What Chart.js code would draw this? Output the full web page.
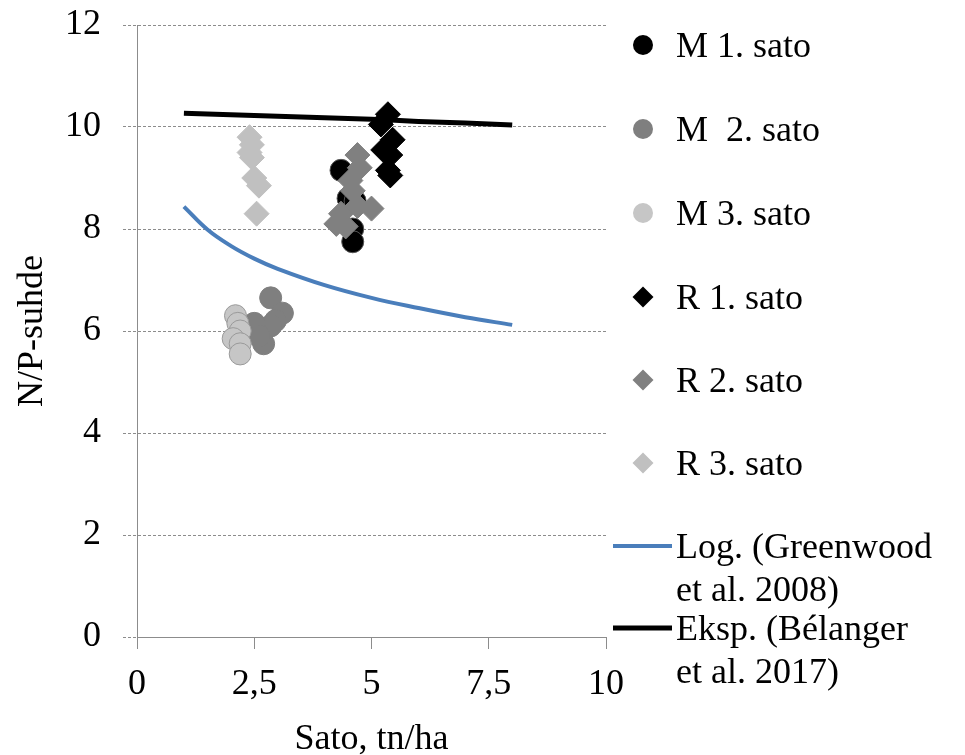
<!DOCTYPE html>
<html>
<head>
<meta charset="utf-8">
<script src="https://cdn.jsdelivr.net/npm/chart.js@4/dist/chart.umd.min.js"></script>
<style>
  body { margin: 0; background: #fff; }
  #c1 { display: block; }
</style>
</head>
<body>
<canvas id="c1" width="965" height="755"></canvas>
<script>
"use strict";

// series: x = sato (tn/ha), y = N/P-suhde
let m1x = [4.35, 4.5, 4.65, 4.6, 4.6];
let m1y = [9.15, 8.6, 8.55, 8.0, 7.75];
let m2x = [2.85, 3.1, 2.95, 2.85, 2.7, 2.5, 2.6];
let m2y = [6.65, 6.35, 6.2, 6.1, 5.75, 6.15, 5.9];
let m3x = [2.1, 2.15, 2.2, 2.05, 2.2, 2.2];
let m3y = [6.3, 6.15, 6.0, 5.85, 5.75, 5.55];
let r1x = [5.35, 5.2, 5.45, 5.25, 5.4, 5.35, 5.4];
let r1y = [10.25, 10.05, 9.75, 9.55, 9.45, 9.15, 9.05];
let r2x = [4.7, 4.75, 4.55, 4.6, 5.0, 4.7, 4.35, 4.25, 4.45];
let r2y = [9.45, 9.2, 8.95, 8.75, 8.4, 8.45, 8.3, 8.1, 8.05];
let r3x = [2.4, 2.45, 2.4, 2.45, 2.5, 2.6, 2.55];
let r3y = [9.8, 9.65, 9.5, 9.4, 9.0, 8.85, 8.3];

// trend lines
let logx = [1, 1.5, 2, 2.5, 3, 4, 5, 6, 7, 8];
let logy = [8.44, 7.99, 7.67, 7.42, 7.22, 6.9, 6.65, 6.45, 6.27, 6.12];
let expx = [1, 2, 3, 4, 5, 6, 7, 8];
let expy = [10.27, 10.24, 10.21, 10.18, 10.15, 10.11, 10.08, 10.04];

let legendLabels = [
    ['M 1. sato'], ['M  2. sato'], ['M 3. sato'],
    ['R 1. sato'], ['R 2. sato'], ['R 3. sato'],
    ['Log. (Greenwood', 'et al. 2008)'],
    ['Eksp. (Bélanger', 'et al. 2017)'],
];

let xTicks = [0, 2.5, 5, 7.5, 10];

const FONT = '"Liberation Serif", "Times New Roman", serif';

function pts(xs, ys) {
    return xs.map((x, i) => ({ x: x, y: ys[i] }));
}

function marker(name, xs, ys, style, fill, border, r, order) {
    return {
        label: name,
        data: pts(xs, ys),
        pointStyle: style,
        pointRadius: r,
        pointHoverRadius: r,
        backgroundColor: fill,
        borderColor: border,
        pointBorderWidth: 1,
        showLine: false,
        order: order,
    };
}

function line(name, xs, ys, color, w, order) {
    return {
        label: name,
        data: pts(xs, ys),
        showLine: true,
        borderColor: color,
        backgroundColor: color,
        borderWidth: w,
        pointRadius: 0,
        tension: 0.4,
        order: order,
    };
}

let datasets = [
    marker('M 1. sato', m1x, m1y, 'circle', '#000000', '#555555', 11, 8),
    marker('M 2. sato', m2x, m2y, 'circle', '#7f7f7f', '#7f7f7f', 11, 7),
    marker('M 3. sato', m3x, m3y, 'circle', '#c6c6c6', '#9a9a9a', 11, 6),
    marker('R 1. sato', r1x, r1y, 'rectRot', '#000000', '#000000', 12.5, 5),
    marker('R 2. sato', r2x, r2y, 'rectRot', '#808080', '#808080', 12.5, 4),
    marker('R 3. sato', r3x, r3y, 'rectRot', '#c0c0c0', '#c0c0c0', 12.5, 3),
    line('Log. (Greenwood et al. 2008)', logx, logy, '#4a7ebb', 4, 2),
    line('Eksp. (Bélanger et al. 2017)', expx, expy, '#000000', 5, 1),
];

// legend on the right, drawn by hand because labels wrap on two lines
let sideLegend = {
    id: 'sideLegend',
    afterDraw(chart) {
        let ctx = chart.ctx;
        let rows = [45, 129, 213, 297, 380, 463, 546, 628];
        ctx.save();
        ctx.font = '36px ' + FONT;
        ctx.fillStyle = '#000';
        ctx.textBaseline = 'middle';
        chart.data.datasets.forEach((ds, i) => {
            let y = rows[i];
            let cx = 643;
            if (ds.showLine) {
                ctx.strokeStyle = ds.borderColor;
                ctx.lineWidth = ds.borderWidth;
                ctx.beginPath();
                ctx.moveTo(613, y);
                ctx.lineTo(672, y);
                ctx.stroke();
            } else {
                ctx.fillStyle = ds.backgroundColor;
                ctx.beginPath();
                if (ds.pointStyle === 'circle') {
                    ctx.arc(cx, y, 10, 0, Math.PI * 2);
                } else {
                    ctx.moveTo(cx - 10.5, y);
                    ctx.lineTo(cx, y - 10.5);
                    ctx.lineTo(cx + 10.5, y);
                    ctx.lineTo(cx, y + 10.5);
                    ctx.closePath();
                }
                ctx.fill();
            }
            ctx.fillStyle = '#000';
            legendLabels[i].forEach((t, k) => {
                ctx.fillText(t, 676, y + 3 + k * 43);
            });
        });
        ctx.restore();
    }
};

let opts = {
    type: 'scatter',
    data: { datasets: datasets },
    options: {
        responsive: false,
        animation: false,
        events: [],
        layout: { padding: { left: 0, top: 25, right: 359, bottom: 0 } },
        plugins: {
            legend: { display: false },
            tooltip: { enabled: false },
        },
        scales: {
            x: {
                type: 'linear',
                min: 0,
                max: 10,
                afterFit: (s) => { s.height = 118; s.paddingLeft = 0; s.paddingRight = 0; },
                afterBuildTicks: (s) => { s.ticks = xTicks.map(v => ({ value: v })); },
                ticks: {
                    color: '#000',
                    font: { family: FONT, size: 36 },
                    padding: 14,
                    maxRotation: 0,
                    callback: (v) => String(v).replace('.', ','),
                },
                grid: {
                    drawOnChartArea: false,
                    drawTicks: true,
                    tickLength: 12,
                    color: '#8c8c8c',
                },
                border: { color: '#8c8c8c', width: 1 },
                title: {
                    display: true,
                    text: 'Sato, tn/ha',
                    color: '#000',
                    font: { family: FONT, size: 36, lineHeight: 1.0 },
                    padding: { top: 0, bottom: -3 },
                },
            },
            y: {
                min: 0,
                max: 12,
                afterFit: (s) => { s.width = 137; s.paddingTop = 0; s.paddingBottom = 0; },
                ticks: {
                    stepSize: 2,
                    color: '#000',
                    font: { family: FONT, size: 36 },
                    padding: 22,
                },
                grid: {
                    color: '#8c8c8c',
                    lineWidth: 1,
                    tickLength: 14,
                    tickBorderDash: [3, 2],
                },
                border: { color: '#8c8c8c', width: 1, dash: [3, 2] },
                title: {
                    display: true,
                    text: 'N/P-suhde',
                    color: '#000',
                    font: { family: FONT, size: 36, lineHeight: 1.0 },
                    padding: { top: 15, bottom: 0 },
                },
            },
        },
    },
    plugins: [sideLegend],
};

let c1 = document.querySelector('#c1');
let chart1 = new Chart(c1, opts);
</script>
</body>
</html>
